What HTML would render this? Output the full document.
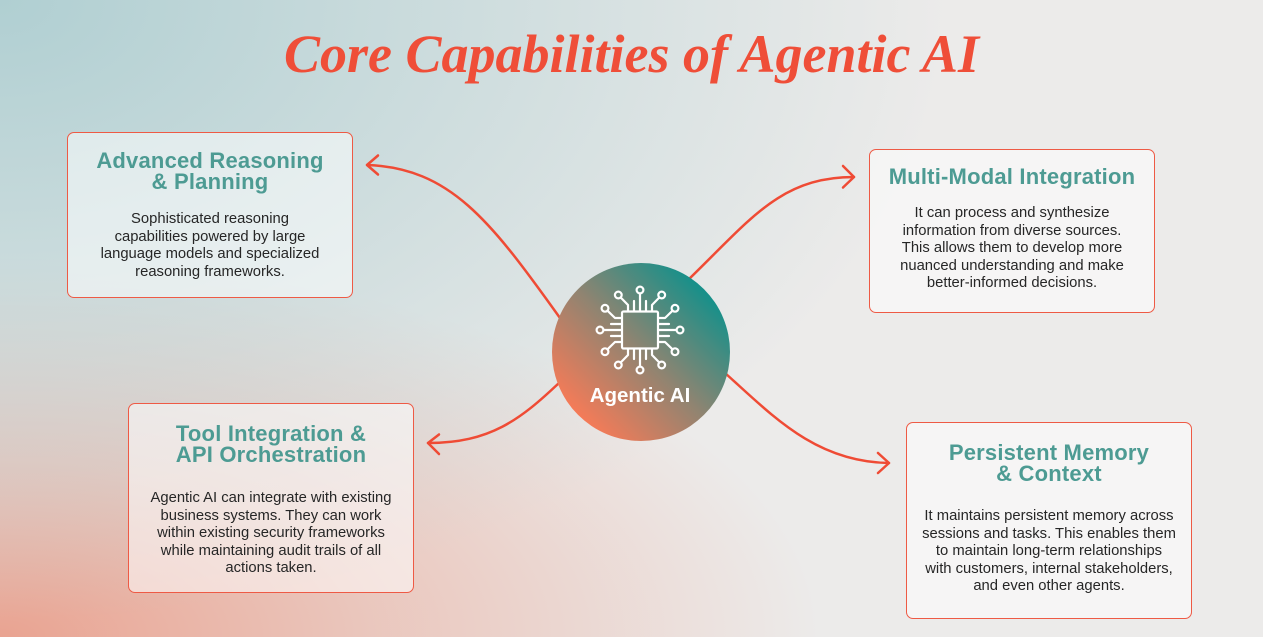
<!DOCTYPE html>
<html>
<head>
<meta charset="utf-8">
<style>
  html, body { margin:0; padding:0; }
  body {
    width:1263px; height:637px; overflow:hidden; position:relative;
    font-family:"Liberation Sans", sans-serif;
    background:
      radial-gradient(ellipse 950px 620px at 0% 0%, rgba(176,207,210,1) 0%, rgba(176,207,210,0.55) 45%, rgba(176,207,210,0) 100%),
      radial-gradient(ellipse 820px 380px at 0% 100%, rgba(233,163,145,1) 0%, rgba(233,163,145,0.5) 45%, rgba(233,163,145,0) 100%),
      #ecebea;
  }
  .title {
    position:absolute; left:0; width:1263px; top:27px; text-align:center;
    font-family:"Liberation Serif", serif; font-weight:bold; font-style:italic;
    font-size:54px; line-height:54px; color:#ef4e38; white-space:nowrap;
  }
  .box {
    position:absolute; box-sizing:border-box;
    border:1.7px solid #ee5a45; border-radius:7px;
    background:rgba(255,255,255,0.52);
  }
  .h {
    position:absolute; left:0; right:0; text-align:center;
    font-weight:bold; font-size:22px; line-height:21.5px; color:#4d9b93; white-space:nowrap;
    letter-spacing:0.2px;
  }
  .p {
    position:absolute; left:0; right:0; text-align:center;
    font-size:14.8px; line-height:17.6px; color:#262626; white-space:nowrap;
  }
  svg { position:absolute; left:0; top:0; }
</style>
</head>
<body>

<div class="title">Core Capabilities of Agentic AI</div>

<svg width="1263" height="637" viewBox="0 0 1263 637">
  <defs>
    <linearGradient id="cg" x1="0.85" y1="0.15" x2="0.15" y2="0.85">
      <stop offset="0" stop-color="#17908a"/>
      <stop offset="0.5" stop-color="#8f8471"/>
      <stop offset="1" stop-color="#f47b58"/>
    </linearGradient>
  </defs>
  <g fill="none" stroke="#ef4b35" stroke-width="2.5" stroke-linecap="round" stroke-linejoin="round">
    <path d="M 560 318 C 490 220, 450 168, 367 165"/>
    <path d="M 378 155.5 L 367 165 L 378 174.5"/>
    <path d="M 688 280 C 750 220, 780 177, 854 177"/>
    <path d="M 843 166 L 854 177 L 843 187.5"/>
    <path d="M 560 382 C 520 420, 490 443, 428 443"/>
    <path d="M 439 434.5 L 428 443 L 439 454"/>
    <path d="M 725 373 C 772 415, 815 462, 889 463"/>
    <path d="M 878 453 L 889 463 L 878 473"/>
  </g>
  <circle cx="641" cy="352" r="89" fill="url(#cg)"/>
  <g transform="translate(640,330)" fill="none" stroke="#ffffff" stroke-width="2.2" stroke-linecap="round" stroke-linejoin="round">
    <rect x="-18" y="-18.5" width="36" height="37" rx="1.5"/>
    <g>
      <path d="M -12 -19 V -25 L -19.3 -32.5"/>
      <circle cx="-21.7" cy="-35" r="3.4"/>
      <path d="M -6 -19 V -29"/>
      <path d="M 0 -19 V -36.5"/>
      <circle cx="0" cy="-40" r="3.4"/>
      <path d="M 6 -19 V -29"/>
      <path d="M 12 -19 V -25 L 19.3 -32.5"/>
      <circle cx="21.7" cy="-35" r="3.4"/>
    </g>
    <g transform="rotate(90)">
      <path d="M -12 -19 V -25 L -19.3 -32.5"/>
      <circle cx="-21.7" cy="-35" r="3.4"/>
      <path d="M -6 -19 V -29"/>
      <path d="M 0 -19 V -36.5"/>
      <circle cx="0" cy="-40" r="3.4"/>
      <path d="M 6 -19 V -29"/>
      <path d="M 12 -19 V -25 L 19.3 -32.5"/>
      <circle cx="21.7" cy="-35" r="3.4"/>
    </g>
    <g transform="rotate(180)">
      <path d="M -12 -19 V -25 L -19.3 -32.5"/>
      <circle cx="-21.7" cy="-35" r="3.4"/>
      <path d="M -6 -19 V -29"/>
      <path d="M 0 -19 V -36.5"/>
      <circle cx="0" cy="-40" r="3.4"/>
      <path d="M 6 -19 V -29"/>
      <path d="M 12 -19 V -25 L 19.3 -32.5"/>
      <circle cx="21.7" cy="-35" r="3.4"/>
    </g>
    <g transform="rotate(270)">
      <path d="M -12 -19 V -25 L -19.3 -32.5"/>
      <circle cx="-21.7" cy="-35" r="3.4"/>
      <path d="M -6 -19 V -29"/>
      <path d="M 0 -19 V -36.5"/>
      <circle cx="0" cy="-40" r="3.4"/>
      <path d="M 6 -19 V -29"/>
      <path d="M 12 -19 V -25 L 19.3 -32.5"/>
      <circle cx="21.7" cy="-35" r="3.4"/>
    </g>
  </g>
  <text x="640" y="402" text-anchor="middle" font-family="Liberation Sans, sans-serif" font-weight="bold" font-size="20.5" fill="#ffffff">Agentic AI</text>
</svg>

<!-- Box 1 -->
<div class="box" style="left:67px; top:132px; width:286px; height:166px;">
  <div class="h" style="top:16.5px;">Advanced Reasoning<br>&amp; Planning</div>
  <div class="p" style="top:78px;">Sophisticated reasoning<br>capabilities powered by large<br>language models and specialized<br>reasoning frameworks.</div>
</div>

<!-- Box 2 -->
<div class="box" style="left:869px; top:149px; width:286px; height:164px;">
  <div class="h" style="top:16px;">Multi-Modal Integration</div>
  <div class="p" style="top:55px;">It can process and synthesize<br>information from diverse sources.<br>This allows them to develop more<br>nuanced understanding and make<br>better-informed decisions.</div>
</div>

<!-- Box 3 -->
<div class="box" style="left:128px; top:403px; width:286px; height:190px;">
  <div class="h" style="top:18.5px;">Tool Integration &amp;<br>API Orchestration</div>
  <div class="p" style="top:86px;">Agentic AI can integrate with existing<br>business systems. They can work<br>within existing security frameworks<br>while maintaining audit trails of all<br>actions taken.</div>
</div>

<!-- Box 4 -->
<div class="box" style="left:906px; top:422px; width:286px; height:197px;">
  <div class="h" style="top:18.5px;">Persistent Memory<br>&amp; Context</div>
  <div class="p" style="top:85px;">It maintains persistent memory across<br>sessions and tasks. This enables them<br>to maintain long-term relationships<br>with customers, internal stakeholders,<br>and even other agents.</div>
</div>

</body>
</html>
